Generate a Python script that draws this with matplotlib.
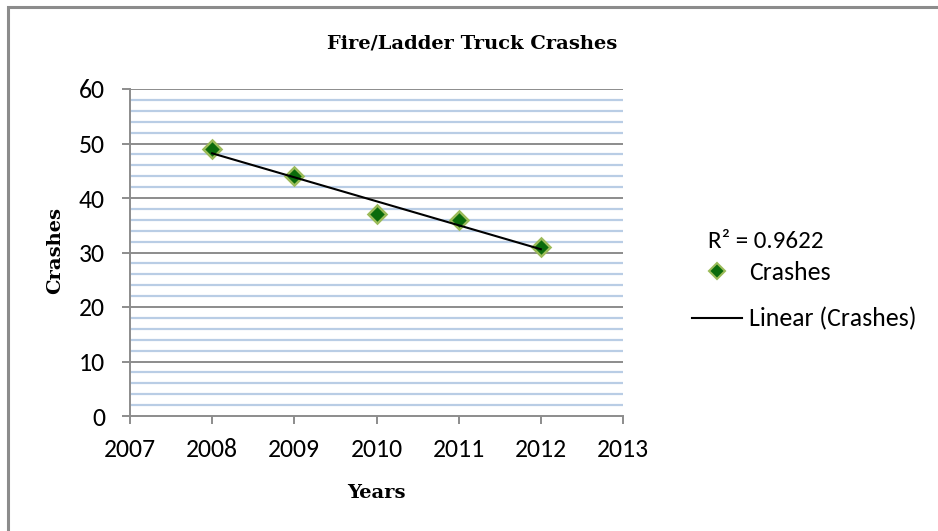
import numpy as np
import matplotlib.pyplot as plt
from matplotlib.lines import Line2D
from matplotlib.patches import Rectangle

years = [2008, 2009, 2010, 2011, 2012]
crashes = [49, 44, 37, 36, 31]
x_ticks = [2007, 2008, 2009, 2010, 2011, 2012, 2013]
y_ticks = [0, 10, 20, 30, 40, 50, 60]

SANS = ['Carlito', 'Open Sans', 'DejaVu Sans']
SERIF = ['DejaVu Serif']

# trendline (Excel linear fit)
slope, icpt = np.polyfit(years, crashes, 1)
fit = np.polyval([slope, icpt], years)
r2 = 1 - np.sum((np.array(crashes) - fit) ** 2) / np.sum((np.array(crashes) - np.mean(crashes)) ** 2)

fig = plt.figure(figsize=(9.38, 5.31), dpi=100)
ax = fig.add_axes([130 / 938, 1 - 416 / 531, (623 - 130) / 938, (416 - 89) / 531])

# outer chart border (only left/top visible in the reference)
fig.add_artist(Rectangle((8 / 938, -0.1), 1.2, 1 - 7 / 531 + 0.1, transform=fig.transFigure,
                         fill=False, edgecolor='#8c8c8c', linewidth=2.2))

ax.set_xlim(2007, 2013)
ax.set_ylim(0, 60)
for v in np.arange(2, 60, 2):
    if v % 10:
        ax.axhline(v, color='#b9cde5', linewidth=1.6, zorder=1)
for v in y_ticks[1:]:
    ax.axhline(v, color='#8c8c8c', linewidth=1.4, zorder=1)

ax.plot(years, crashes, linestyle='none', marker='D', markersize=9,
        markerfacecolor='#0b6b0b', markeredgecolor='#9bbb59', markeredgewidth=1.8, zorder=3)
ax.plot(years, fit, color='black', linewidth=1.5, zorder=4)

for s in ['top', 'right']:
    ax.spines[s].set_visible(False)
for s in ['left', 'bottom']:
    ax.spines[s].set_color('#8c8c8c')
    ax.spines[s].set_linewidth(1.4)

ax.set_xticks(x_ticks)
ax.set_yticks(y_ticks)
ax.tick_params(axis='both', direction='out', length=6, width=1.4, color='#8c8c8c',
               labelsize=18.5)
ax.tick_params(axis='x', pad=10)
ax.tick_params(axis='y', pad=12)
for lab in ax.get_xticklabels() + ax.get_yticklabels():
    lab.set_family(SANS)

fig.text(376 / 938, 1 - 493 / 531, 'Years', ha='center', va='center',
         fontsize=14, fontweight='bold', family=SERIF)
fig.text(55 / 938, 1 - 251 / 531, 'Crashes', ha='center', va='center', rotation=90,
         fontsize=14, fontweight='bold', family=SERIF)
fig.text(472 / 938, 1 - 44 / 531, 'Fire/Ladder Truck Crashes', ha='center', va='center',
         fontsize=14, fontweight='bold', family=SERIF)

fig.text(708 / 938, 1 - 241 / 531, 'R² = {:.4f}'.format(r2), ha='left', va='center',
         fontsize=18, family=SANS)

handles = [Line2D([], [], linestyle='none', marker='D', markersize=8,
                  markerfacecolor='#0b6b0b', markeredgecolor='#9bbb59', markeredgewidth=1.5),
           Line2D([], [], color='black', linewidth=1.5)]
fig.legend(handles, ['Crashes', 'Linear (Crashes)'], loc='center left',
           bbox_to_anchor=(692 / 938, 1 - 296 / 531), frameon=False,
           prop={'family': SANS, 'size': 18.5}, handlelength=1.95, handletextpad=0.28,
           labelspacing=0.9, borderaxespad=0, borderpad=0)

fig.savefig('out.png', dpi=100)
